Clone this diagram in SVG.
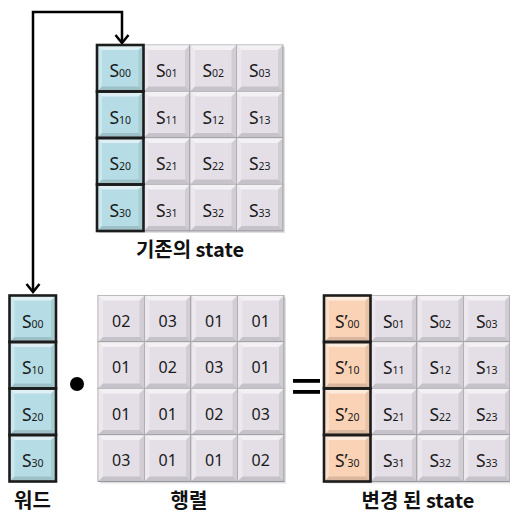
<svg xmlns="http://www.w3.org/2000/svg" xmlns:xlink="http://www.w3.org/1999/xlink" width="510" height="513" viewBox="0 0 510 513">
<style>
.c{fill:#e4dfe7;stroke:#a3a1a6;stroke-width:1}
.b{fill:#b6dde5;stroke:#a3a1a6;stroke-width:1}
.o{fill:#fad3b6;stroke:#a3a1a6;stroke-width:1}
.hl{fill:none;stroke:#1c1c1c;stroke-width:2.6}
.s{font-family:"Noto Sans","Liberation Sans",sans-serif;font-size:17.5px;fill:#1a1a1a;text-anchor:middle}
.s tspan{font-size:10.5px}
.n{font-family:"Noto Sans","Liberation Sans",sans-serif;font-size:16px;fill:#1a1a1a;text-anchor:middle}
.lbl{font-family:"Noto Sans CJK KR","Noto Sans",sans-serif;font-size:20px;font-weight:bold;fill:#111;text-anchor:middle}
.ln{fill:none;stroke:#000;stroke-width:2.5}
.shadow{fill:#000;opacity:.12}
</style>
<defs>
<g id="bv">
<polygon points="0,0 46.5,0 41.5,5 5,5" fill="#fff" opacity=".55"/>
<polygon points="0,0 5,5 5,41.5 0,46.5" fill="#fff" opacity=".3"/>
<polygon points="0,46.5 5,41.5 41.5,41.5 46.5,46.5" fill="#000" opacity=".13"/>
<polygon points="46.5,0 46.5,46.5 41.5,41.5 41.5,5" fill="#000" opacity=".08"/>
</g>
<marker id="ah" markerUnits="userSpaceOnUse" markerWidth="20" markerHeight="20" viewBox="-10 -10 20 20" refX="0" refY="0" orient="auto-start-reverse">
<path d="M-8,-6.5 L0,0 L-8,6.5" fill="none" stroke="#000" stroke-width="2.5"/>
</marker>
</defs>

<g id="connectors">
<path class="ln" d="M33,292 V12 H122 V43" marker-start="url(#ah)" marker-end="url(#ah)"/>
</g>

<g id="state-original">
<rect class="shadow" x="99" y="47" width="186" height="186"/>
<rect class="b" x="97" y="45" width="46.5" height="46.5"/><use xlink:href="#bv" x="97" y="45"/>
<rect class="c" x="143.5" y="45" width="46.5" height="46.5"/><use xlink:href="#bv" x="143.5" y="45"/>
<rect class="c" x="190" y="45" width="46.5" height="46.5"/><use xlink:href="#bv" x="190" y="45"/>
<rect class="c" x="236.5" y="45" width="46.5" height="46.5"/><use xlink:href="#bv" x="236.5" y="45"/>
<rect class="b" x="97" y="91.5" width="46.5" height="46.5"/><use xlink:href="#bv" x="97" y="91.5"/>
<rect class="c" x="143.5" y="91.5" width="46.5" height="46.5"/><use xlink:href="#bv" x="143.5" y="91.5"/>
<rect class="c" x="190" y="91.5" width="46.5" height="46.5"/><use xlink:href="#bv" x="190" y="91.5"/>
<rect class="c" x="236.5" y="91.5" width="46.5" height="46.5"/><use xlink:href="#bv" x="236.5" y="91.5"/>
<rect class="b" x="97" y="138" width="46.5" height="46.5"/><use xlink:href="#bv" x="97" y="138"/>
<rect class="c" x="143.5" y="138" width="46.5" height="46.5"/><use xlink:href="#bv" x="143.5" y="138"/>
<rect class="c" x="190" y="138" width="46.5" height="46.5"/><use xlink:href="#bv" x="190" y="138"/>
<rect class="c" x="236.5" y="138" width="46.5" height="46.5"/><use xlink:href="#bv" x="236.5" y="138"/>
<rect class="b" x="97" y="184.5" width="46.5" height="46.5"/><use xlink:href="#bv" x="97" y="184.5"/>
<rect class="c" x="143.5" y="184.5" width="46.5" height="46.5"/><use xlink:href="#bv" x="143.5" y="184.5"/>
<rect class="c" x="190" y="184.5" width="46.5" height="46.5"/><use xlink:href="#bv" x="190" y="184.5"/>
<rect class="c" x="236.5" y="184.5" width="46.5" height="46.5"/><use xlink:href="#bv" x="236.5" y="184.5"/>
<rect class="hl" x="97" y="45" width="46.5" height="46.5"/>
<rect class="hl" x="97" y="91.5" width="46.5" height="46.5"/>
<rect class="hl" x="97" y="138" width="46.5" height="46.5"/>
<rect class="hl" x="97" y="184.5" width="46.5" height="46.5"/>
<text class="s" x="120.25" y="77">S<tspan>00</tspan></text>
<text class="s" x="166.75" y="77">S<tspan>01</tspan></text>
<text class="s" x="213.25" y="77">S<tspan>02</tspan></text>
<text class="s" x="259.75" y="77">S<tspan>03</tspan></text>
<text class="s" x="120.25" y="123.5">S<tspan>10</tspan></text>
<text class="s" x="166.75" y="123.5">S<tspan>11</tspan></text>
<text class="s" x="213.25" y="123.5">S<tspan>12</tspan></text>
<text class="s" x="259.75" y="123.5">S<tspan>13</tspan></text>
<text class="s" x="120.25" y="170">S<tspan>20</tspan></text>
<text class="s" x="166.75" y="170">S<tspan>21</tspan></text>
<text class="s" x="213.25" y="170">S<tspan>22</tspan></text>
<text class="s" x="259.75" y="170">S<tspan>23</tspan></text>
<text class="s" x="120.25" y="216.5">S<tspan>30</tspan></text>
<text class="s" x="166.75" y="216.5">S<tspan>31</tspan></text>
<text class="s" x="213.25" y="216.5">S<tspan>32</tspan></text>
<text class="s" x="259.75" y="216.5">S<tspan>33</tspan></text>
<text class="lbl" x="190" y="257">기존의 state</text>
</g>

<g id="word">
<rect class="b" x="9.5" y="295.5" width="46.5" height="46.5"/><use xlink:href="#bv" x="9.5" y="295.5"/>
<rect class="b" x="9.5" y="342" width="46.5" height="46.5"/><use xlink:href="#bv" x="9.5" y="342"/>
<rect class="b" x="9.5" y="388.5" width="46.5" height="46.5"/><use xlink:href="#bv" x="9.5" y="388.5"/>
<rect class="b" x="9.5" y="435" width="46.5" height="46.5"/><use xlink:href="#bv" x="9.5" y="435"/>
<rect class="hl" x="9.5" y="295.5" width="46.5" height="46.5"/>
<rect class="hl" x="9.5" y="342" width="46.5" height="46.5"/>
<rect class="hl" x="9.5" y="388.5" width="46.5" height="46.5"/>
<rect class="hl" x="9.5" y="435" width="46.5" height="46.5"/>
<text class="s" x="32.75" y="327.5">S<tspan>00</tspan></text>
<text class="s" x="32.75" y="374">S<tspan>10</tspan></text>
<text class="s" x="32.75" y="420.5">S<tspan>20</tspan></text>
<text class="s" x="32.75" y="467">S<tspan>30</tspan></text>
<text class="lbl" x="32.5" y="508">워드</text>
</g>

<g id="dot-operator">
<circle cx="77" cy="384" r="7" fill="#000"/>
</g>

<g id="matrix">
<rect class="shadow" x="100" y="297.5" width="186" height="186"/>
<rect class="c" x="98" y="295.5" width="46.5" height="46.5"/><use xlink:href="#bv" x="98" y="295.5"/>
<rect class="c" x="144.5" y="295.5" width="46.5" height="46.5"/><use xlink:href="#bv" x="144.5" y="295.5"/>
<rect class="c" x="191" y="295.5" width="46.5" height="46.5"/><use xlink:href="#bv" x="191" y="295.5"/>
<rect class="c" x="237.5" y="295.5" width="46.5" height="46.5"/><use xlink:href="#bv" x="237.5" y="295.5"/>
<rect class="c" x="98" y="342" width="46.5" height="46.5"/><use xlink:href="#bv" x="98" y="342"/>
<rect class="c" x="144.5" y="342" width="46.5" height="46.5"/><use xlink:href="#bv" x="144.5" y="342"/>
<rect class="c" x="191" y="342" width="46.5" height="46.5"/><use xlink:href="#bv" x="191" y="342"/>
<rect class="c" x="237.5" y="342" width="46.5" height="46.5"/><use xlink:href="#bv" x="237.5" y="342"/>
<rect class="c" x="98" y="388.5" width="46.5" height="46.5"/><use xlink:href="#bv" x="98" y="388.5"/>
<rect class="c" x="144.5" y="388.5" width="46.5" height="46.5"/><use xlink:href="#bv" x="144.5" y="388.5"/>
<rect class="c" x="191" y="388.5" width="46.5" height="46.5"/><use xlink:href="#bv" x="191" y="388.5"/>
<rect class="c" x="237.5" y="388.5" width="46.5" height="46.5"/><use xlink:href="#bv" x="237.5" y="388.5"/>
<rect class="c" x="98" y="435" width="46.5" height="46.5"/><use xlink:href="#bv" x="98" y="435"/>
<rect class="c" x="144.5" y="435" width="46.5" height="46.5"/><use xlink:href="#bv" x="144.5" y="435"/>
<rect class="c" x="191" y="435" width="46.5" height="46.5"/><use xlink:href="#bv" x="191" y="435"/>
<rect class="c" x="237.5" y="435" width="46.5" height="46.5"/><use xlink:href="#bv" x="237.5" y="435"/>
<text class="n" x="121.25" y="326.5">02</text>
<text class="n" x="167.75" y="326.5">03</text>
<text class="n" x="214.25" y="326.5">01</text>
<text class="n" x="260.75" y="326.5">01</text>
<text class="n" x="121.25" y="373">01</text>
<text class="n" x="167.75" y="373">02</text>
<text class="n" x="214.25" y="373">03</text>
<text class="n" x="260.75" y="373">01</text>
<text class="n" x="121.25" y="419.5">01</text>
<text class="n" x="167.75" y="419.5">01</text>
<text class="n" x="214.25" y="419.5">02</text>
<text class="n" x="260.75" y="419.5">03</text>
<text class="n" x="121.25" y="466">03</text>
<text class="n" x="167.75" y="466">01</text>
<text class="n" x="214.25" y="466">01</text>
<text class="n" x="260.75" y="466">02</text>
<text class="lbl" x="189" y="508">행렬</text>
</g>

<g id="equals-operator">
<rect x="293" y="379" width="27" height="3.8" fill="#000"/>
<rect x="293" y="390" width="27" height="3.8" fill="#000"/>
</g>

<g id="state-changed">
<rect class="shadow" x="326" y="297.5" width="184" height="186"/>
<rect class="o" x="324" y="295.5" width="46.5" height="46.5"/><use xlink:href="#bv" x="324" y="295.5"/>
<rect class="c" x="370.5" y="295.5" width="46.5" height="46.5"/><use xlink:href="#bv" x="370.5" y="295.5"/>
<rect class="c" x="417" y="295.5" width="46.5" height="46.5"/><use xlink:href="#bv" x="417" y="295.5"/>
<rect class="c" x="463.5" y="295.5" width="46.5" height="46.5"/><use xlink:href="#bv" x="463.5" y="295.5"/>
<rect class="o" x="324" y="342" width="46.5" height="46.5"/><use xlink:href="#bv" x="324" y="342"/>
<rect class="c" x="370.5" y="342" width="46.5" height="46.5"/><use xlink:href="#bv" x="370.5" y="342"/>
<rect class="c" x="417" y="342" width="46.5" height="46.5"/><use xlink:href="#bv" x="417" y="342"/>
<rect class="c" x="463.5" y="342" width="46.5" height="46.5"/><use xlink:href="#bv" x="463.5" y="342"/>
<rect class="o" x="324" y="388.5" width="46.5" height="46.5"/><use xlink:href="#bv" x="324" y="388.5"/>
<rect class="c" x="370.5" y="388.5" width="46.5" height="46.5"/><use xlink:href="#bv" x="370.5" y="388.5"/>
<rect class="c" x="417" y="388.5" width="46.5" height="46.5"/><use xlink:href="#bv" x="417" y="388.5"/>
<rect class="c" x="463.5" y="388.5" width="46.5" height="46.5"/><use xlink:href="#bv" x="463.5" y="388.5"/>
<rect class="o" x="324" y="435" width="46.5" height="46.5"/><use xlink:href="#bv" x="324" y="435"/>
<rect class="c" x="370.5" y="435" width="46.5" height="46.5"/><use xlink:href="#bv" x="370.5" y="435"/>
<rect class="c" x="417" y="435" width="46.5" height="46.5"/><use xlink:href="#bv" x="417" y="435"/>
<rect class="c" x="463.5" y="435" width="46.5" height="46.5"/><use xlink:href="#bv" x="463.5" y="435"/>
<rect class="hl" x="324" y="295.5" width="46.5" height="46.5"/>
<rect class="hl" x="324" y="342" width="46.5" height="46.5"/>
<rect class="hl" x="324" y="388.5" width="46.5" height="46.5"/>
<rect class="hl" x="324" y="435" width="46.5" height="46.5"/>
<text class="s" x="347.25" y="327.5">S’<tspan>00</tspan></text>
<text class="s" x="393.75" y="327.5">S<tspan>01</tspan></text>
<text class="s" x="440.25" y="327.5">S<tspan>02</tspan></text>
<text class="s" x="486.75" y="327.5">S<tspan>03</tspan></text>
<text class="s" x="347.25" y="374">S’<tspan>10</tspan></text>
<text class="s" x="393.75" y="374">S<tspan>11</tspan></text>
<text class="s" x="440.25" y="374">S<tspan>12</tspan></text>
<text class="s" x="486.75" y="374">S<tspan>13</tspan></text>
<text class="s" x="347.25" y="420.5">S’<tspan>20</tspan></text>
<text class="s" x="393.75" y="420.5">S<tspan>21</tspan></text>
<text class="s" x="440.25" y="420.5">S<tspan>22</tspan></text>
<text class="s" x="486.75" y="420.5">S<tspan>23</tspan></text>
<text class="s" x="347.25" y="467">S’<tspan>30</tspan></text>
<text class="s" x="393.75" y="467">S<tspan>31</tspan></text>
<text class="s" x="440.25" y="467">S<tspan>32</tspan></text>
<text class="s" x="486.75" y="467">S<tspan>33</tspan></text>
<text class="lbl" x="418" y="508">변경 된 state</text>
</g>
</svg>
